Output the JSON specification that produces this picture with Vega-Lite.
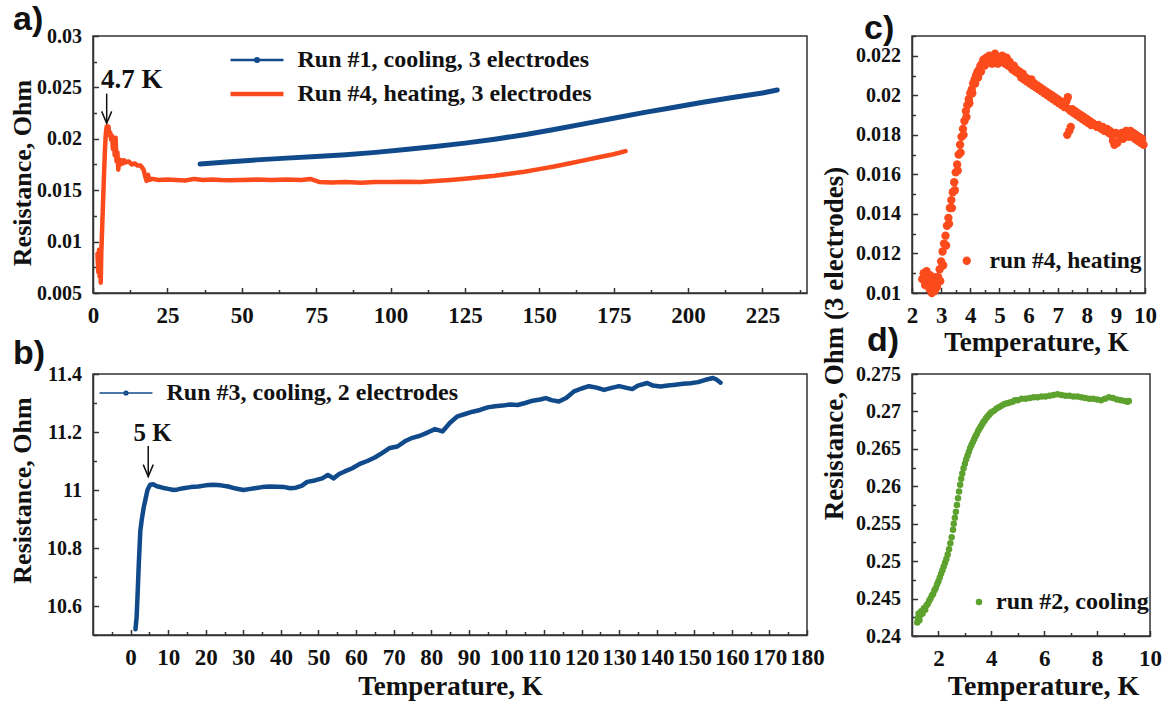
{
  "$schema": "https://vega.github.io/schema/vega-lite/v6.json",
  "background": "white",
  "padding": {"left": 8, "top": 2, "right": 8, "bottom": 2},
  "config": {
    "view": {"stroke": "#333333", "strokeWidth": 1.5},
    "style": {"guide-label": {"font": "Liberation Serif", "fontWeight": "bold", "fill": "#111111"}, "guide-title": {"font": "Liberation Serif", "fontWeight": "bold", "fill": "#111111"}},
    "axis": {"grid": false, "labelFont": "Liberation Serif", "labelFontWeight": "bold", "labelColor": "#111111", "titleFont": "Liberation Serif", "titleFontWeight": "bold", "titleColor": "#111111", "domainColor": "#333333", "domainWidth": 1.5, "tickColor": "#333333", "tickWidth": 1.5, "labelOverlap": false, "labelFlush": false, "labelBound": false},
    "legend": {"labelFont": "Liberation Serif", "labelFontWeight": "bold", "labelColor": "#111111", "padding": 0, "rowPadding": 10, "labelLimit": 400},
    "title": {"font": "Liberation Sans", "fontWeight": "bold", "fontSize": 34, "color": "#111111", "anchor": "start", "frame": "group", "baseline": "alphabetic", "dy": 16}
  },
  "datasets": {
    "run1": [{"T":36,"R":0.01755},{"T":45,"R":0.01775},{"T":55,"R":0.01795},{"T":65,"R":0.01812},{"T":75,"R":0.01828},{"T":85,"R":0.01846},{"T":95,"R":0.01868},{"T":105,"R":0.01895},{"T":115,"R":0.01925},{"T":125,"R":0.01958},{"T":135,"R":0.01996},{"T":145,"R":0.0204},{"T":155,"R":0.0209},{"T":165,"R":0.02145},{"T":175,"R":0.022},{"T":185,"R":0.02255},{"T":195,"R":0.02305},{"T":205,"R":0.02355},{"T":215,"R":0.02402},{"T":225,"R":0.02445},{"T":230,"R":0.02475}],
    "run4": [{"T":1.5,"R":0.0088},{"T":1.8,"R":0.007},{"T":2.0,"R":0.0092},{"T":2.2,"R":0.0066},{"T":2.4,"R":0.0079},{"T":2.6,"R":0.006},{"T":2.8,"R":0.009},{"T":3.1,"R":0.0115},{"T":3.4,"R":0.014},{"T":3.7,"R":0.0165},{"T":4.0,"R":0.0188},{"T":4.3,"R":0.0205},{"T":4.6,"R":0.0212},{"T":4.9,"R":0.0208},{"T":5.2,"R":0.0212},{"T":5.5,"R":0.0204},{"T":5.8,"R":0.0206},{"T":6.1,"R":0.0199},{"T":6.4,"R":0.0203},{"T":6.7,"R":0.019},{"T":7.0,"R":0.0198},{"T":7.3,"R":0.0184},{"T":7.6,"R":0.0201},{"T":7.9,"R":0.0178},{"T":8.2,"R":0.0187},{"T":8.5,"R":0.017},{"T":8.8,"R":0.018},{"T":9.2,"R":0.0175},{"T":9.6,"R":0.0179},{"T":10,"R":0.0176},{"T":10.5,"R":0.0179},{"T":11,"R":0.0177},{"T":12,"R":0.0178},{"T":13,"R":0.0175},{"T":14,"R":0.0176},{"T":15,"R":0.0174},{"T":16,"R":0.0174},{"T":16.5,"R":0.0172},{"T":17,"R":0.017},{"T":17.5,"R":0.0164},{"T":18,"R":0.0159},{"T":18.5,"R":0.0165},{"T":19,"R":0.016},{"T":20,"R":0.0161},{"T":22,"R":0.016},{"T":25,"R":0.01605},{"T":28,"R":0.016},{"T":31,"R":0.01595},{"T":34,"R":0.0161},{"T":37,"R":0.016},{"T":40,"R":0.01605},{"T":43,"R":0.016},{"T":46,"R":0.01598},{"T":50,"R":0.016},{"T":55,"R":0.01603},{"T":60,"R":0.016},{"T":65,"R":0.01605},{"T":70,"R":0.016},{"T":73,"R":0.0161},{"T":76,"R":0.0158},{"T":80,"R":0.01575},{"T":85,"R":0.0158},{"T":90,"R":0.01572},{"T":95,"R":0.0158},{"T":100,"R":0.0158},{"T":105,"R":0.01583},{"T":110,"R":0.0158},{"T":115,"R":0.0159},{"T":120,"R":0.016},{"T":125,"R":0.01612},{"T":130,"R":0.01625},{"T":135,"R":0.0164},{"T":140,"R":0.0166},{"T":145,"R":0.0168},{"T":150,"R":0.01705},{"T":155,"R":0.0173},{"T":160,"R":0.0176},{"T":165,"R":0.0179},{"T":170,"R":0.0182},{"T":175,"R":0.0185},{"T":179,"R":0.0188}],
    "run3": [{"T":1.3,"R":10.52},{"T":1.6,"R":10.56},{"T":1.9,"R":10.65},{"T":2.2,"R":10.75},{"T":2.6,"R":10.86},{"T":3.0,"R":10.9},{"T":3.5,"R":10.94},{"T":4.0,"R":10.97},{"T":4.5,"R":11.0},{"T":5.2,"R":11.018},{"T":6.0,"R":11.02},{"T":7.0,"R":11.013},{"T":8.5,"R":11.008},{"T":10,"R":11.004},{"T":11.5,"R":11.0},{"T":12.5,"R":11.002},{"T":14,"R":11.006},{"T":16,"R":11.01},{"T":18,"R":11.012},{"T":20,"R":11.016},{"T":22,"R":11.018},{"T":24,"R":11.016},{"T":26,"R":11.012},{"T":28,"R":11.005},{"T":30,"R":11.0},{"T":31.5,"R":11.003},{"T":33,"R":11.006},{"T":35,"R":11.01},{"T":37,"R":11.012},{"T":39,"R":11.011},{"T":41,"R":11.01},{"T":42.5,"R":11.006},{"T":44,"R":11.008},{"T":45.5,"R":11.014},{"T":47,"R":11.028},{"T":49,"R":11.033},{"T":51,"R":11.04},{"T":52.5,"R":11.052},{"T":54,"R":11.04},{"T":55.5,"R":11.055},{"T":57,"R":11.064},{"T":59,"R":11.075},{"T":61,"R":11.09},{"T":63,"R":11.1},{"T":65,"R":11.112},{"T":67,"R":11.128},{"T":69,"R":11.145},{"T":71,"R":11.15},{"T":73,"R":11.168},{"T":75,"R":11.18},{"T":77,"R":11.187},{"T":79,"R":11.198},{"T":81,"R":11.21},{"T":83,"R":11.202},{"T":85,"R":11.232},{"T":87,"R":11.254},{"T":89,"R":11.262},{"T":91,"R":11.27},{"T":93,"R":11.276},{"T":95,"R":11.285},{"T":97,"R":11.289},{"T":99,"R":11.291},{"T":101,"R":11.295},{"T":103,"R":11.293},{"T":105,"R":11.3},{"T":107,"R":11.308},{"T":109,"R":11.312},{"T":110.5,"R":11.317},{"T":112,"R":11.31},{"T":114,"R":11.305},{"T":116,"R":11.318},{"T":118,"R":11.34},{"T":120,"R":11.35},{"T":122,"R":11.358},{"T":124,"R":11.353},{"T":126,"R":11.345},{"T":128,"R":11.352},{"T":130,"R":11.358},{"T":132,"R":11.352},{"T":133.5,"R":11.348},{"T":135,"R":11.36},{"T":137.5,"R":11.369},{"T":139,"R":11.36},{"T":141,"R":11.357},{"T":143,"R":11.36},{"T":145,"R":11.363},{"T":147,"R":11.366},{"T":149,"R":11.368},{"T":151,"R":11.372},{"T":153,"R":11.38},{"T":155,"R":11.386},{"T":156,"R":11.38},{"T":157,"R":11.37}],
    "run4c": [{"T":2.35,"R":0.0107},{"T":2.4,"R":0.011},{"T":2.45,"R":0.0104},{"T":2.5,"R":0.0111},{"T":2.55,"R":0.0106},{"T":2.6,"R":0.0102},{"T":2.62,"R":0.0109},{"T":2.68,"R":0.01},{"T":2.72,"R":0.0105},{"T":2.78,"R":0.0101},{"T":2.82,"R":0.0108},{"T":2.86,"R":0.0103},
      {"T":2.9,"R":0.0108},{"T":2.95,"R":0.0112},{"T":3.0,"R":0.0116},{"T":3.05,"R":0.0121},{"T":3.1,"R":0.0125},{"T":3.15,"R":0.0129},{"T":3.2,"R":0.0134},{"T":3.25,"R":0.0138},{"T":3.3,"R":0.0143},{"T":3.35,"R":0.0147},{"T":3.4,"R":0.0151},{"T":3.45,"R":0.0156},{"T":3.5,"R":0.0161},{"T":3.55,"R":0.0165},{"T":3.6,"R":0.017},{"T":3.65,"R":0.0175},{"T":3.7,"R":0.0179},{"T":3.75,"R":0.0183},{"T":3.8,"R":0.0187},{"T":3.85,"R":0.0192},{"T":3.9,"R":0.0195},{"T":3.95,"R":0.0198},{"T":4.0,"R":0.0201},{"T":4.05,"R":0.0203},{"T":4.1,"R":0.0206},{"T":4.15,"R":0.0208},{"T":4.2,"R":0.021},{"T":4.25,"R":0.0212},{"T":4.3,"R":0.0213},{"T":4.35,"R":0.0215},{"T":4.4,"R":0.0216},
      {"T":2.97,"R":0.0106},{"T":3.07,"R":0.0114},{"T":3.17,"R":0.0124},{"T":3.27,"R":0.0135},{"T":3.37,"R":0.0143},{"T":3.47,"R":0.0152},{"T":3.57,"R":0.0162},{"T":3.67,"R":0.0171},{"T":3.77,"R":0.018},{"T":3.87,"R":0.0189},{"T":3.97,"R":0.0196},{"T":4.07,"R":0.0201},{"T":4.17,"R":0.0206},{"T":4.27,"R":0.0209},{"T":4.37,"R":0.0212},
      {"T":4.45,"R":0.0218},{"T":4.5,"R":0.0215},{"T":4.55,"R":0.0219},{"T":4.6,"R":0.0217},{"T":4.65,"R":0.022},{"T":4.7,"R":0.0218},{"T":4.75,"R":0.0216},{"T":4.8,"R":0.0219},{"T":4.85,"R":0.0221},{"T":4.9,"R":0.0218},{"T":4.95,"R":0.0216},{"T":5.0,"R":0.0219},{"T":5.05,"R":0.0217},{"T":5.1,"R":0.022},{"T":5.15,"R":0.0218},{"T":5.2,"R":0.0216},{"T":5.25,"R":0.0219},{"T":5.3,"R":0.0215},{"T":5.35,"R":0.0217},{"T":5.4,"R":0.0214},
      {"T":5.45,"R":0.0213},{"T":5.5,"R":0.0215},{"T":5.55,"R":0.0212},{"T":5.6,"R":0.0213},{"T":5.65,"R":0.0211},{"T":5.7,"R":0.0212},{"T":5.75,"R":0.0209},{"T":5.8,"R":0.0211},{"T":5.85,"R":0.0208},{"T":5.9,"R":0.0209},{"T":5.95,"R":0.0207},{"T":6.0,"R":0.0208},{"T":6.05,"R":0.0206},{"T":6.1,"R":0.0208},{"T":6.15,"R":0.0205},{"T":6.2,"R":0.0206},{"T":6.25,"R":0.0204},{"T":6.3,"R":0.0205},{"T":6.35,"R":0.0203},{"T":6.4,"R":0.0204},{"T":6.45,"R":0.0202},{"T":6.5,"R":0.0203},{"T":6.55,"R":0.0201},{"T":6.6,"R":0.0202},{"T":6.65,"R":0.02},{"T":6.7,"R":0.0201},{"T":6.75,"R":0.0199},{"T":6.8,"R":0.02},{"T":6.85,"R":0.0198},{"T":6.9,"R":0.0199},{"T":6.95,"R":0.0197},{"T":7.0,"R":0.0198},{"T":7.05,"R":0.0196},{"T":7.1,"R":0.0197},{"T":7.15,"R":0.0195},{"T":7.2,"R":0.0196},{"T":7.25,"R":0.0194},{"T":7.3,"R":0.0197},{"T":7.35,"R":0.0199},{"T":7.38,"R":0.0193},{"T":7.33,"R":0.018},{"T":7.4,"R":0.0182},{"T":7.45,"R":0.0184},{"T":7.45,"R":0.0192},{"T":7.5,"R":0.0193},{"T":7.55,"R":0.0191},{"T":7.6,"R":0.0192},{"T":7.65,"R":0.019},{"T":7.7,"R":0.0191},{"T":7.75,"R":0.0189},{"T":7.8,"R":0.019},{"T":7.85,"R":0.0188},{"T":7.9,"R":0.0189},{"T":7.95,"R":0.0187},{"T":8.0,"R":0.0188},{"T":8.05,"R":0.0186},{"T":8.1,"R":0.0187},{"T":8.15,"R":0.0185},{"T":8.2,"R":0.0186},{"T":8.3,"R":0.0185},{"T":8.35,"R":0.0184},{"T":8.4,"R":0.0185},{"T":8.5,"R":0.0183},{"T":8.55,"R":0.0184},{"T":8.6,"R":0.0182},{"T":8.7,"R":0.0183},{"T":8.75,"R":0.0181},{"T":8.8,"R":0.0182},{"T":8.85,"R":0.018},{"T":8.9,"R":0.0177},{"T":8.95,"R":0.0175},{"T":9.0,"R":0.0181},{"T":9.05,"R":0.0176},{"T":9.1,"R":0.018},{"T":9.2,"R":0.0181},{"T":9.25,"R":0.0178},{"T":9.3,"R":0.018},{"T":9.35,"R":0.0182},{"T":9.4,"R":0.0181},{"T":9.45,"R":0.0179},{"T":9.5,"R":0.0182},{"T":9.55,"R":0.018},{"T":9.6,"R":0.0181},{"T":9.65,"R":0.0178},{"T":9.7,"R":0.018},{"T":9.75,"R":0.0177},{"T":9.8,"R":0.0179},{"T":9.85,"R":0.0176},{"T":9.9,"R":0.0178},{"T":9.95,"R":0.0175}],
    "run2": [{"T":1.2,"R":0.2418},{"T":1.22,"R":0.2424},{"T":1.25,"R":0.243},{"T":1.28,"R":0.2421},{"T":1.32,"R":0.2428},{"T":1.35,"R":0.2433},{"T":1.4,"R":0.243},{"T":1.45,"R":0.2437},{"T":1.5,"R":0.2435},{"T":1.55,"R":0.2441},{"T":1.6,"R":0.2443},{"T":1.65,"R":0.2447},{"T":1.7,"R":0.245},{"T":1.75,"R":0.2454},{"T":1.8,"R":0.2456},{"T":1.85,"R":0.2461},{"T":1.9,"R":0.2464},{"T":1.95,"R":0.2469},{"T":2.0,"R":0.2473},{"T":2.05,"R":0.2478},{"T":2.1,"R":0.2483},{"T":2.15,"R":0.2488},{"T":2.2,"R":0.2493},{"T":2.25,"R":0.2498},{"T":2.3,"R":0.2503},{"T":2.35,"R":0.2509},{"T":2.4,"R":0.2516},{"T":2.45,"R":0.2524},{"T":2.5,"R":0.2532},{"T":2.55,"R":0.2542},{"T":2.58,"R":0.255},{"T":2.62,"R":0.2558},{"T":2.66,"R":0.2566},{"T":2.7,"R":0.2575},{"T":2.74,"R":0.2584},{"T":2.78,"R":0.2593},{"T":2.82,"R":0.2602},{"T":2.86,"R":0.261},{"T":2.9,"R":0.2617},{"T":2.95,"R":0.2624},{"T":3.0,"R":0.263},{"T":3.05,"R":0.2636},{"T":3.1,"R":0.2641},{"T":3.15,"R":0.2646},{"T":3.2,"R":0.2651},{"T":3.25,"R":0.2655},{"T":3.3,"R":0.2659},{"T":3.35,"R":0.2663},{"T":3.4,"R":0.2667},{"T":3.45,"R":0.267},{"T":3.5,"R":0.2674},{"T":3.55,"R":0.2677},{"T":3.6,"R":0.268},{"T":3.65,"R":0.2683},{"T":3.7,"R":0.2686},{"T":3.75,"R":0.2688},{"T":3.8,"R":0.2691},{"T":3.85,"R":0.2693},{"T":3.9,"R":0.2695},{"T":3.95,"R":0.2697},{"T":4.0,"R":0.2699},{"T":4.1,"R":0.2701},{"T":4.2,"R":0.2704},{"T":4.3,"R":0.2706},{"T":4.4,"R":0.2708},{"T":4.5,"R":0.271},{"T":4.6,"R":0.2711},{"T":4.7,"R":0.2712},{"T":4.8,"R":0.2713},{"T":4.9,"R":0.2715},{"T":5.0,"R":0.2715},{"T":5.15,"R":0.2717},{"T":5.3,"R":0.2717},{"T":5.45,"R":0.2718},{"T":5.6,"R":0.2719},{"T":5.75,"R":0.2719},{"T":5.9,"R":0.272},{"T":6.05,"R":0.272},{"T":6.2,"R":0.2721},{"T":6.35,"R":0.2722},{"T":6.5,"R":0.2723},{"T":6.65,"R":0.2722},{"T":6.8,"R":0.2721},{"T":6.95,"R":0.2721},{"T":7.1,"R":0.272},{"T":7.25,"R":0.272},{"T":7.4,"R":0.2719},{"T":7.55,"R":0.2718},{"T":7.7,"R":0.2717},{"T":7.85,"R":0.2717},{"T":8.0,"R":0.2716},{"T":8.15,"R":0.2715},{"T":8.3,"R":0.2717},{"T":8.45,"R":0.2719},{"T":8.6,"R":0.2718},{"T":8.75,"R":0.2716},{"T":8.9,"R":0.2715},{"T":9.05,"R":0.2714},{"T":9.15,"R":0.2713},{"T":9.2,"R":0.2714}]
  },
  "columns": 2,
  "spacing": {"row": 81, "column": 105},
  "bounds": "flush",
  "concat": [
    {
      "width": 714, "height": 257,
      "title": {"text": "a)", "offset": 5, "dx": -80},
      "layer": [
        {
          "data": {"name": "run1"},
          "mark": {"type": "line", "strokeWidth": 5, "strokeCap": "round", "strokeJoin": "round"},
          "encoding": {
            "x": {"field": "T", "type": "quantitative", "scale": {"domain": [0, 240], "nice": false, "zero": false},
                  "axis": {"orient": "bottom", "values": [0,25,50,75,100,125,150,175,200,225], "labelExpr": "toString(datum.value)", "labelFont": "Liberation Serif", "labelFontWeight": "bold", "tickSize": -5.5, "labelPadding": 17, "labelFontSize": 23, "title": null}},
            "y": {"field": "R", "type": "quantitative", "scale": {"domain": [0.005, 0.03], "nice": false, "zero": false},
                  "axis": {"orient": "left", "values": [0.005,0.01,0.015,0.02,0.025,0.03], "labelExpr": "toString(datum.value)", "labelFont": "Liberation Serif", "labelFontWeight": "bold", "tickSize": -5.5, "labelPadding": 17, "labelFontSize": 20, "title": "Resistance, Ohm", "titleFont": "Liberation Serif", "titleFontWeight": "bold", "titleFontSize": 26, "titleX": -71, "titleY": 136.5, "titleBaseline": "middle", "titleAlign": "center", "titleAngle": -90}},
            "color": {"datum": "Run #1, cooling, 3 electrodes", "type": "nominal",
                      "scale": {"domain": ["Run #1, cooling, 3 electrodes", "Run #4, heating, 3 electrodes"], "range": ["#114a8b", "#fb4b1c"]},
                      "legend": {"orient": "none", "legendX": 152, "legendY": 12, "title": null, "labelFontSize": 24, "symbolSize": 112, "labelOffset": 28.5, "rowPadding": 10,
                                 "encode": {"symbols": {"update": {
                                   "shape": {"signal": "datum.value === 'Run #1, cooling, 3 electrodes' ? 'M-5,0H5M0.35,0A0.35,0.35,0,1,1,-0.35,0A0.35,0.35,0,1,1,0.35,0' : 'M-5,0H5'"},
                                   "strokeWidth": {"signal": "datum.value === 'Run #1, cooling, 3 electrodes' ? 2.5 : 4.5"}}}}}}
          }
        },
        {
          "data": {"name": "run4"},
          "mark": {"type": "line", "strokeWidth": 4.5, "strokeCap": "round", "strokeJoin": "round"},
          "encoding": {
            "x": {"field": "T", "type": "quantitative", "axis": null},
            "y": {"field": "R", "type": "quantitative", "axis": null},
            "color": {"datum": "Run #4, heating, 3 electrodes", "type": "nominal"}
          }
        },
        {
          "data": {"values": [{"T": 4.6, "top": 0.0244, "tip": 0.0215}]},
          "mark": {"type": "rule", "color": "#111111", "strokeWidth": 1.5},
          "encoding": {
            "x": {"field": "T", "type": "quantitative", "axis": {"orient": "bottom", "values": [12.5,37.5,62.5,87.5,112.5,137.5,162.5,187.5,212.5,237.5], "labels": false, "domain": false, "tickSize": -3.5, "title": null}},
            "y": {"field": "top", "type": "quantitative", "axis": {"orient": "left", "values": [0.0075,0.0125,0.0175,0.0225,0.0275], "labels": false, "domain": false, "tickSize": -3.5, "title": null}},
            "y2": {"field": "tip"}
          }
        },
        {
          "data": {"values": [{"T": 4.6, "top": 0.0244, "tip": 0.0215}]},
          "mark": {"type": "point", "shape": "M-1,-2.4L0,0L1,-2.4", "size": 100, "filled": false, "color": "#111111", "strokeWidth": 1.5, "opacity": 1},
          "encoding": {
            "x": {"field": "T", "type": "quantitative", "axis": null},
            "y": {"field": "tip", "type": "quantitative", "axis": null}
          }
        },
        {
          "data": {"values": [{"T": 2.7, "R": 0.0249, "label": "4.7 K"}]},
          "mark": {"type": "text", "align": "left", "baseline": "alphabetic", "font": "Liberation Serif", "fontWeight": "bold", "fontSize": 27, "color": "#111111"},
          "encoding": {
            "x": {"field": "T", "type": "quantitative", "axis": null},
            "y": {"field": "R", "type": "quantitative", "axis": null},
            "text": {"field": "label"}
          }
        }
      ],
      "resolve": {"axis": {"x": "independent", "y": "independent"}}
    },
    {
      "width": 233, "height": 257,
      "title": {"text": "c)", "offset": 5, "dx": -48},
      "data": {"name": "run4c"},
      "layer": [
        {
          "mark": {"type": "point", "filled": true, "size": 70, "opacity": 1},
          "encoding": {
            "x": {"field": "T", "type": "quantitative", "scale": {"domain": [2, 10], "nice": false, "zero": false},
                  "axis": {"orient": "bottom", "values": [2,3,4,5,6,7,8,9,10], "labelExpr": "toString(datum.value)", "labelFont": "Liberation Serif", "labelFontWeight": "bold", "tickSize": -5.5, "labelPadding": 17, "labelFontSize": 23, "title": "Temperature, K", "titleFont": "Liberation Serif", "titleFontWeight": "bold", "titleFontSize": 27, "titleX": 124, "titleY": 57, "titleBaseline": "alphabetic", "titleAlign": "center"}},
            "y": {"field": "R", "type": "quantitative", "scale": {"domain": [0.01, 0.023], "nice": false, "zero": false},
                  "axis": {"orient": "left", "values": [0.01,0.012,0.014,0.016,0.018,0.02,0.022], "labelExpr": "toString(datum.value)", "labelFont": "Liberation Serif", "labelFontWeight": "bold", "tickSize": -5.5, "labelPadding": 17, "labelFontSize": 20, "title": "Resistance, Ohm (3 electrodes)", "titleFont": "Liberation Serif", "titleFontWeight": "bold", "titleFontSize": 27, "titleX": -78, "titleY": 307, "titleBaseline": "middle", "titleAlign": "center", "titleAngle": -90}},
            "color": {"datum": "run #4, heating", "type": "nominal", "scale": {"domain": ["run #4, heating"], "range": ["#fb4b1c"]},
                      "legend": {"orient": "none", "legendX": 43, "legendY": 213, "title": null, "labelFontSize": 23.5, "symbolSize": 70, "labelOffset": 11, "symbolType": "circle", "symbolOpacity": 1}}
          }
        },
        {
          "mark": {"type": "point", "opacity": 0},
          "encoding": {
            "x": {"field": "T", "type": "quantitative", "axis": {"orient": "bottom", "values": [2.5,3.5,4.5,5.5,6.5,7.5,8.5,9.5], "labels": false, "domain": false, "tickSize": -3.5, "title": null}},
            "y": {"field": "R", "type": "quantitative", "axis": {"orient": "left", "values": [0.011,0.013,0.015,0.017,0.019,0.021,0.023], "labels": false, "domain": false, "tickSize": -3.5, "title": null}}
          }
        }
      ],
      "resolve": {"axis": {"x": "independent", "y": "independent"}}
    },
    {
      "width": 714, "height": 261,
      "title": {"text": "b)", "offset": 9, "dx": -80},
      "layer": [
        {
          "data": {"name": "run3"},
          "mark": {"type": "line", "strokeWidth": 4.5, "strokeCap": "round", "strokeJoin": "round"},
          "encoding": {
            "x": {"field": "T", "type": "quantitative", "scale": {"domain": [-10, 180], "nice": false, "zero": false},
                  "axis": {"orient": "bottom", "values": [0,10,20,30,40,50,60,70,80,90,100,110,120,130,140,150,160,170,180], "labelExpr": "toString(datum.value)", "labelFont": "Liberation Serif", "labelFontWeight": "bold", "tickSize": -5.5, "labelPadding": 17, "labelFontSize": 23, "title": "Temperature, K", "titleFont": "Liberation Serif", "titleFontWeight": "bold", "titleFontSize": 27, "titleX": 357, "titleY": 59, "titleBaseline": "alphabetic", "titleAlign": "center"}},
            "y": {"field": "R", "type": "quantitative", "scale": {"domain": [10.5, 11.4], "nice": false, "zero": false},
                  "axis": {"orient": "left", "values": [10.6,10.8,11,11.2,11.4], "labelExpr": "toString(datum.value)", "labelFont": "Liberation Serif", "labelFontWeight": "bold", "tickSize": -5.5, "labelPadding": 17, "labelFontSize": 20, "title": "Resistance, Ohm", "titleFont": "Liberation Serif", "titleFontWeight": "bold", "titleFontSize": 26, "titleX": -71, "titleY": 116, "titleBaseline": "middle", "titleAlign": "center", "titleAngle": -90}},
            "color": {"datum": "Run #3, cooling, 2 electrodes", "type": "nominal",
                      "scale": {"domain": ["Run #3, cooling, 2 electrodes"], "range": ["#114a8b"]},
                      "legend": {"orient": "none", "legendX": 21, "legendY": 7, "title": null, "labelFontSize": 24, "symbolSize": 112, "labelOffset": 28.5, "symbolStrokeWidth": 1.5,
                                 "symbolType": "M-5,0H5M0.35,0A0.35,0.35,0,1,1,-0.35,0A0.35,0.35,0,1,1,0.35,0"}}
          }
        },
        {
          "data": {"values": [{"T": 4.7, "top": 11.152, "tip": 11.046}]},
          "mark": {"type": "rule", "color": "#111111", "strokeWidth": 1.5},
          "encoding": {
            "x": {"field": "T", "type": "quantitative", "axis": {"orient": "bottom", "values": [-5,5,15,25,35,45,55,65,75,85,95,105,115,125,135,145,155,165,175], "labels": false, "domain": false, "tickSize": -3.5, "title": null}},
            "y": {"field": "top", "type": "quantitative", "axis": {"orient": "left", "values": [10.5,10.7,10.9,11.1,11.3], "labels": false, "domain": false, "tickSize": -3.5, "title": null}},
            "y2": {"field": "tip"}
          }
        },
        {
          "data": {"values": [{"T": 4.7, "top": 11.152, "tip": 11.046}]},
          "mark": {"type": "point", "shape": "M-1,-2.4L0,0L1,-2.4", "size": 100, "filled": false, "color": "#111111", "strokeWidth": 1.5, "opacity": 1},
          "encoding": {
            "x": {"field": "T", "type": "quantitative", "axis": null},
            "y": {"field": "tip", "type": "quantitative", "axis": null}
          }
        },
        {
          "data": {"values": [{"T": 0.8, "R": 11.169, "label": "5 K"}]},
          "mark": {"type": "text", "align": "left", "baseline": "alphabetic", "font": "Liberation Serif", "fontWeight": "bold", "fontSize": 25, "color": "#111111"},
          "encoding": {
            "x": {"field": "T", "type": "quantitative", "axis": null},
            "y": {"field": "R", "type": "quantitative", "axis": null},
            "text": {"field": "label"}
          }
        }
      ],
      "resolve": {"axis": {"x": "independent", "y": "independent"}}
    },
    {
      "width": 238, "height": 262,
      "title": {"text": "d)", "offset": 22, "dx": -45},
      "data": {"name": "run2"},
      "layer": [
        {
          "mark": {"type": "point", "filled": true, "size": 42, "opacity": 1},
          "encoding": {
            "x": {"field": "T", "type": "quantitative", "scale": {"domain": [1, 10], "nice": false, "zero": false},
                  "axis": {"orient": "bottom", "values": [2,4,6,8,10], "labelExpr": "toString(datum.value)", "labelFont": "Liberation Serif", "labelFontWeight": "bold", "tickSize": -5.5, "labelPadding": 17, "labelFontSize": 23, "title": "Temperature, K", "titleFont": "Liberation Serif", "titleFontWeight": "bold", "titleFontSize": 28, "titleX": 131, "titleY": 58, "titleBaseline": "alphabetic", "titleAlign": "center"}},
            "y": {"field": "R", "type": "quantitative", "scale": {"domain": [0.24, 0.275], "nice": false, "zero": false},
                  "axis": {"orient": "left", "values": [0.24,0.245,0.25,0.255,0.26,0.265,0.27,0.275], "labelExpr": "toString(datum.value)", "labelFont": "Liberation Serif", "labelFontWeight": "bold", "tickSize": -5.5, "labelPadding": 17, "labelFontSize": 20, "title": null}},
            "color": {"datum": "run #2, cooling", "type": "nominal", "scale": {"domain": ["run #2, cooling"], "range": ["#5da22e"]},
                      "legend": {"orient": "none", "legendX": 55, "legendY": 216, "title": null, "labelFontSize": 24, "symbolSize": 42, "labelOffset": 5, "symbolType": "circle", "symbolOpacity": 1}}
          }
        },
        {
          "mark": {"type": "point", "opacity": 0},
          "encoding": {
            "x": {"field": "T", "type": "quantitative", "axis": {"orient": "bottom", "values": [3,5,7,9], "labels": false, "domain": false, "tickSize": -3.5, "title": null}},
            "y": {"field": "R", "type": "quantitative", "axis": {"orient": "left", "values": [0.2425,0.2475,0.2525,0.2575,0.2625,0.2675,0.2725], "labels": false, "domain": false, "tickSize": -3.5, "title": null}}
          }
        }
      ],
      "resolve": {"axis": {"x": "independent", "y": "independent"}}
    }
  ],
  "resolve": {"scale": {"color": "independent"}, "legend": {"color": "independent"}}
}
